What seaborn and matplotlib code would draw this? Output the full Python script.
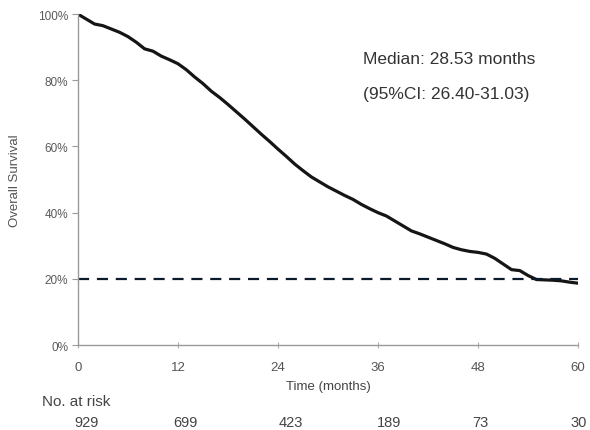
import matplotlib
matplotlib.use("Agg")
import matplotlib.pyplot as plt
import seaborn as sns
import pandas as pd
from matplotlib.ticker import PercentFormatter

# ---- data ----
months = list(range(0, 61))
survival = [1.000, 0.985, 0.970, 0.965, 0.955, 0.945, 0.932, 0.915, 0.895, 0.888,
            0.873, 0.862, 0.850, 0.832, 0.810, 0.790, 0.767, 0.748, 0.727, 0.705,
            0.683, 0.660, 0.637, 0.615, 0.592, 0.570, 0.547, 0.527, 0.508, 0.493,
            0.478, 0.465, 0.452, 0.440, 0.425, 0.412, 0.400, 0.390, 0.375, 0.360,
            0.345, 0.336, 0.326, 0.316, 0.306, 0.295, 0.288, 0.283, 0.280, 0.275,
            0.262, 0.245, 0.228, 0.225, 0.210, 0.198, 0.197, 0.196, 0.194, 0.190,
            0.187]
ref_level = 0.20
x_ticks = [0, 12, 24, 36, 48, 60]
y_ticks = [0, 0.2, 0.4, 0.6, 0.8, 1.0]
at_risk = [929, 699, 423, 189, 73, 30]
median_text = "Median: 28.53 months"
ci_text = "(95%CI: 26.40-31.03)"

df = pd.DataFrame({"Time": months, "Survival": survival})

sns.set_theme(style="white")
plt.rcParams['font.family'] = ['Liberation Sans', 'DejaVu Sans']

fig = plt.figure(figsize=(5.9, 4.31), dpi=100)
ax = fig.add_axes([0.132, 0.197, 0.848, 0.768])

sns.lineplot(data=df, x="Time", y="Survival", ax=ax, color="#151515",
             linewidth=2.3)
ax.hlines(ref_level, 0, 60, colors="#0d1a2b", linestyles=(0, (5, 3.5)), linewidth=1.6)

ax.set_xlim(0, 60)
ax.set_ylim(0, 1.0)
ax.set_xticks(x_ticks)
ax.set_yticks(y_ticks)
ax.yaxis.set_major_formatter(PercentFormatter(1.0, decimals=0))
for s in ["top", "right"]:
    ax.spines[s].set_visible(False)
for s in ["left", "bottom"]:
    ax.spines[s].set_color("#9a9a9a")
    ax.spines[s].set_linewidth(1.0)
ax.tick_params(axis="y", which="major", length=4, width=0.8, color="#9a9a9a",
               direction="out", labelsize=8.5, labelcolor="#5a5a5a", pad=3, left=True)
ax.tick_params(axis="x", which="major", length=5, width=0.8, color="#b0b0b0",
               direction="inout", labelsize=9.5, labelcolor="#555555", pad=9, bottom=True)

ax.set_xlabel("Time (months)", fontsize=9.5, color="#444444", labelpad=5)
ax.set_ylabel("Overall Survival", fontsize=9.5, color="#555555", labelpad=12)

ax.text(0.57, 0.865, median_text, transform=ax.transAxes, fontsize=12.5,
        color="#333333", va="center")
ax.text(0.57, 0.76, ci_text, transform=ax.transAxes, fontsize=12.5,
        color="#333333", va="center")

# number at risk table
fig.text(42 / 590, 1 - 402 / 431, "No. at risk", fontsize=11, color="#444444",
         va="center", ha="left")
risk_dx = [9, 7, 13, 11, 2, 0]
for t, n, dx in zip(x_ticks, at_risk, risk_dx):
    ax.annotate(str(n), xy=(t, 0), xycoords="data", xytext=(dx, -77),
                textcoords="offset pixels", ha="center", va="center",
                fontsize=10.5, color="#444444", annotation_clip=False)

fig.savefig("out.png", dpi=100)
